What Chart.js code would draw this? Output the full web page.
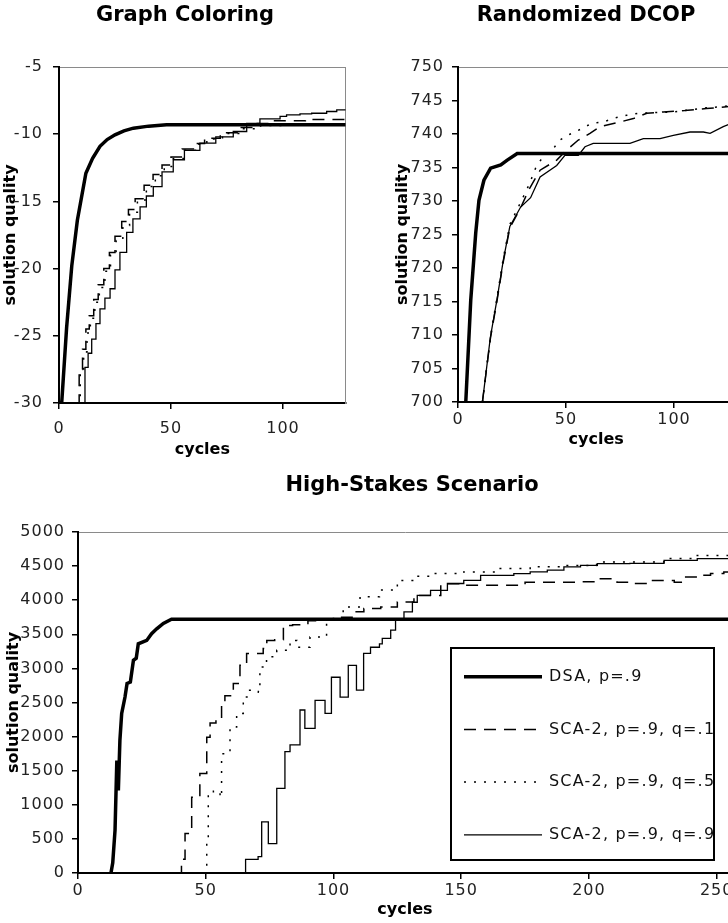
<!DOCTYPE html>
<html>
<head>
<meta charset="utf-8">
<script src="https://cdn.jsdelivr.net/npm/chart.js@4.4.1/dist/chart.umd.min.js"></script>
<style>
  html, body { margin: 0; padding: 0; background: #fff; overflow: hidden; width: 728px; height: 923px; }
  .box { position: absolute; }
  #gcBox { left: 0; top: 0; width: 370px; height: 463px; }
  #dcopBox { left: 392px; top: 0; width: 388px; height: 453px; }
  #hsBox { left: 0; top: 460px; width: 824px; height: 463px; }
</style>
</head>
<body>
<div class="box" id="gcBox"><canvas id="gcChart"></canvas></div>
<div class="box" id="dcopBox"><canvas id="dcopChart"></canvas></div>
<div class="box" id="hsBox"><canvas id="hsChart"></canvas></div>
<script>
// ===== Data =====
const seriesLabels = ['DSA, p=.9', 'SCA-2, p=.9, q=.1', 'SCA-2, p=.9, q=.5', 'SCA-2, p=.9, q=.9'];

// Graph Coloring
const gcXTicks = [0, 50, 100];
const gcYTicks = [-30, -25, -20, -15, -10, -5];
const gcDsaX = [1.2, 3.4, 5.7, 8.2, 12, 15, 18.3, 21.5, 25, 29, 33.2, 40, 48, 128];
const gcDsaY = [-30, -24.4, -19.8, -16.4, -12.9, -11.8, -10.9, -10.4, -10.05, -9.75, -9.55, -9.4, -9.3, -9.3];
const gcQ1X = [7.6, 9, 10.5, 12, 13.5, 15.5, 17.5, 20, 22.5, 25, 28, 31, 34, 38, 42, 46, 50, 55, 60, 65, 72, 80, 88, 95, 110, 128];
const gcQ1Y = [-30, -27.5, -26, -24.5, -23.5, -22.3, -21.2, -20, -18.8, -17.6, -16.5, -15.6, -14.8, -13.8, -13, -12.3, -11.7, -11.1, -10.7, -10.3, -9.9, -9.5, -9.2, -9, -8.9, -8.88];
const gcQ5X = [8, 9.5, 11, 12.5, 14, 16, 18, 20.5, 23, 25.5, 28.5, 31.5, 35, 39, 43, 47, 51, 56, 61, 66, 73, 81, 90, 100, 128];
const gcQ5Y = [-30, -27.8, -26.2, -24.8, -23.7, -22.5, -21.4, -20.2, -19, -17.9, -16.8, -15.8, -14.9, -13.9, -13.1, -12.4, -11.8, -11.2, -10.75, -10.35, -9.95, -9.6, -9.35, -9.25, -9.2];
const gcQ9X = [10.9, 11.6, 13, 14.6, 16.5, 18.3, 20.5, 22.8, 25, 27.2, 30.2, 33, 36.2, 39, 42.1, 46, 51, 56, 62.9, 70, 77.8, 83.8, 89.7, 98.7, 101.6, 107.6, 112.8, 119.5, 124, 128];
const gcQ9Y = [-30, -27.35, -26.3, -25.25, -24.1, -23, -22.2, -21.5, -20.1, -18.8, -17.3, -16.3, -15.4, -14.6, -13.9, -12.8, -11.9, -11.2, -10.66, -10.2, -9.8, -9.2, -8.86, -8.68, -8.56, -8.49, -8.44, -8.31, -8.19, -8.19];

// Randomized DCOP
const dcopXTicks = [0, 50, 100];
const dcopYTicks = [700, 705, 710, 715, 720, 725, 730, 735, 740, 745, 750];
const dcopDsaX = [3.6, 5.9, 8.2, 9.7, 12, 15.1, 19.8, 22.8, 27.4, 128];
const dcopDsaY = [700, 715.2, 725.2, 730.1, 733.1, 734.9, 735.4, 736.1, 737.1, 737.1];
const dcopQ1X = [11.3, 15, 18, 21, 24, 29, 33, 38, 45.7, 50.3, 55.7, 61.1, 65.7, 75, 81.2, 87.4, 95, 105, 115, 122, 128];
const dcopQ1Y = [700, 709.5, 715, 721, 726, 729, 731.8, 734.6, 736.1, 737.6, 739.1, 740.1, 741.1, 741.8, 742.3, 743.1, 743.3, 743.5, 743.8, 744, 744.2];
const dcopQ5X = [11.3, 15, 18, 21, 24, 29, 33, 36.4, 40, 44.1, 47.2, 52, 57.3, 61.9, 67.3, 72.7, 78.1, 83.5, 92, 99.7, 107.4, 115.1, 122.8, 128];
const dcopQ5Y = [700, 709.7, 715.5, 721.5, 726.5, 729.8, 732.5, 735.3, 736.8, 737.8, 739.1, 740, 740.8, 741.6, 741.8, 742.4, 742.8, 743.1, 743.2, 743.3, 743.6, 743.9, 744.1, 744.3];
const dcopQ9X = [11.3, 15, 18, 21, 24, 29, 33.6, 38, 45.7, 49.5, 55.7, 58.8, 62.6, 79.6, 85.8, 93.5, 99.7, 107.4, 113.6, 116.7, 122.8, 125.1, 128];
const dcopQ9Y = [700, 709.7, 715.2, 721.2, 726.2, 729.1, 730.5, 733.6, 735.3, 736.8, 736.8, 738.1, 738.6, 738.6, 739.3, 739.3, 739.8, 740.3, 740.3, 740.1, 741.1, 741.4, 741.5];

// High-Stakes Scenario
const hsXTicks = [0, 50, 100, 150, 200, 250];
const hsYTicks = [0, 500, 1000, 1500, 2000, 2500, 3000, 3500, 4000, 4500, 5000];
const hsDsaX = [12.9, 13.6, 14.5, 15.2, 15.8, 16.4, 17.1, 18.4, 19.2, 20.5, 21.7, 22.8, 23.6, 26.9, 28.8, 30.8, 33.4, 36.6, 256];
const hsDsaY = [0, 150, 630, 1650, 1210, 1945, 2340, 2580, 2780, 2800, 3120, 3150, 3360, 3410, 3510, 3580, 3660, 3720, 3720];
const hsQ1X = [38.6, 40.5, 41.9, 44.5, 47.7, 50.4, 51.7, 54, 56.2, 57.5, 60.8, 63.4, 66, 72.5, 73.9, 77, 80.4, 84, 90, 95, 100, 107.8, 111.9, 118.5, 125, 131.5, 142, 151, 166.7, 175, 183.7, 195, 203, 211, 216, 224, 233.4, 237.3, 242.4, 247.6, 252.8, 256];
const hsQ1Y = [0, 200, 580, 1110, 1460, 1990, 2200, 2250, 2480, 2600, 2780, 3045, 3220, 3290, 3410, 3420, 3630, 3640, 3700, 3720, 3750, 3830, 3880, 3900, 3975, 4070, 4240, 4220, 4220, 4265, 4265, 4270, 4315, 4265, 4245, 4290, 4265, 4340, 4365, 4390, 4415, 4420];
const hsQ5X = [49.3, 50.4, 51, 53, 55.6, 56.2, 59.5, 62.1, 64.7, 66.7, 70.6, 71.2, 73.8, 77.8, 83, 85.7, 90.8, 97.3, 103.8, 110.4, 118, 125, 131, 138, 151, 164, 177, 190, 203, 216, 229.4, 242.4, 256];
const hsQ5Y = [0, 480, 1160, 1200, 1110, 1750, 2140, 2340, 2580, 2680, 2650, 3020, 3170, 3265, 3410, 3310, 3460, 3705, 3900, 4050, 4150, 4290, 4350, 4390, 4415, 4465, 4490, 4510, 4560, 4560, 4610, 4655, 4640];
const hsQ9X = [65.4, 65.6, 70.2, 70.5, 71.6, 71.9, 73.9, 74.5, 77.3, 77.8, 80.5, 81, 82.5, 83, 85.7, 86.9, 88.8, 91.4, 92.8, 95.5, 96.7, 98, 99.2, 101, 102.6, 104.5, 105.8, 107.8, 109, 110.5, 111.8, 114, 114.5, 117.5, 118, 118.8, 119.1, 122, 122.4, 124, 124.3, 127, 127.6, 130.5, 130.9, 132.5, 132.8, 137.5, 138, 144, 144.6, 150.5, 151, 157, 157.6, 170, 170.6, 176.5, 177, 183, 183.7, 189.7, 190.2, 196, 196.7, 203, 203.3, 216, 229.4, 242.4, 256];
const hsQ9Y = [0, 200, 200, 240, 240, 750, 750, 430, 430, 1240, 1240, 1780, 1780, 1880, 1880, 2390, 2120, 2120, 2530, 2530, 2340, 2340, 2870, 2870, 2580, 2580, 3045, 3045, 2680, 2680, 3220, 3220, 3310, 3310, 3360, 3360, 3440, 3440, 3560, 3560, 3705, 3705, 3830, 3830, 3970, 3970, 4070, 4070, 4145, 4145, 4245, 4245, 4290, 4290, 4365, 4365, 4390, 4390, 4415, 4415, 4440, 4440, 4490, 4490, 4510, 4510, 4535, 4540, 4585, 4610, 4635];

// ===== Styling =====
const tickFont = { family: 'DejaVu Sans', size: 16 };
const axisFont = { family: 'DejaVu Sans', size: 16, weight: 'bold' };
const titleFont = { family: 'DejaVu Sans', size: 21, weight: 'bold' };
const lineStyles = [
  { borderWidth: 3.5, borderDash: [] },
  { borderWidth: 1.5, borderDash: [12, 8] },
  { borderWidth: 1.5, borderDash: [2, 8] },
  { borderWidth: 1.3, borderDash: [] }
];

const zip = (xs, ys) => xs.map((x, i) => ({ x, y: ys[i] }));

function makeSeries(pairs, steppedSca) {
  return pairs.map((p, i) => ({
    label: seriesLabels[i],
    data: zip(p[0], p[1]),
    borderColor: '#000',
    borderWidth: lineStyles[i].borderWidth,
    borderDash: lineStyles[i].borderDash,
    pointRadius: 0,
    tension: 0,
    fill: false,
    stepped: steppedSca && i > 0,
    xAxisID: 'x',
    yAxisID: 'y'
  }));
}

// dotted outline on the top and right side of the plot
const dotted = { color: '#8a8a8a', width: 1, dash: [2, 2] };

function scales(o) {
  return {
    x: {
      type: 'linear', min: 0, max: o.xMax,
      afterBuildTicks: s => { s.ticks = o.xTicks.map(v => ({ value: v })); },
      afterFit: s => { s.height = o.xHeight; },
      grid: { display: true, drawOnChartArea: false, tickLength: 6, color: '#000', lineWidth: 1.5 },
      border: { color: '#000', width: 2 },
      ticks: { z: 1, font: tickFont, color: '#222', padding: o.xPad, maxRotation: 0, autoSkip: false, callback: v => String(v) },
      title: { display: true, text: 'cycles', font: axisFont, color: '#000', padding: { top: 0, bottom: 3.4 } }
    },
    xTop: {
      type: 'linear', position: 'top',
      afterFit: s => { s.height = o.topGap; },
      grid: { display: false }, ticks: { display: false }, border: dotted
    },
    y: {
      type: 'linear', min: o.yTicks[0], max: o.yTicks[o.yTicks.length - 1],
      afterBuildTicks: s => { s.ticks = o.yTicks.map(v => ({ value: v })); },
      afterFit: s => { s.width = o.yWidth; },
      grid: { display: true, drawOnChartArea: false, tickLength: 6, color: '#000', lineWidth: 1.5 },
      border: { color: '#000', width: 2 },
      ticks: { z: 1, font: tickFont, color: '#222', padding: o.yPad, autoSkip: false, callback: v => String(v) },
      title: { display: true, text: 'solution quality', font: axisFont, color: '#000', padding: { top: o.yTitlePad, bottom: 0 } }
    },
    yRight: {
      type: 'linear', position: 'right',
      afterFit: s => { s.width = o.rightGap; },
      grid: { display: false }, ticks: { display: false }, border: dotted
    }
  };
}

// ===== Legend drawn inside the High-Stakes plot, wider letter spacing for regular text =====
const legendBox = {
  id: 'legendBox',
  afterDatasetsDraw(chart, args, opts) {
    const { ctx, chartArea: a } = chart;
    // tick labels (z: 1) are drawn after this hook and keep this spacing
    ctx.letterSpacing = '1px';
    if (!opts.show) return;
    const left = a.left + 373, top = a.top + 116, w = 263, h = 212;
    ctx.save();
    ctx.fillStyle = '#fff';
    ctx.fillRect(left, top, w, h);
    ctx.strokeStyle = '#000';
    ctx.lineWidth = 2;
    ctx.strokeRect(left, top, w, h);
    ctx.beginPath();
    ctx.rect(left, top, w - 1, h);
    ctx.clip();
    ctx.letterSpacing = '1.2px';
    chart.data.datasets.forEach((ds, i) => {
      const y = top + 28.7 + i * 52.7;
      ctx.setLineDash(ds.borderDash);
      ctx.lineWidth = ds.borderWidth;
      ctx.strokeStyle = ds.borderColor;
      ctx.beginPath();
      ctx.moveTo(left + 13, y);
      ctx.lineTo(left + 91, y);
      ctx.stroke();
      ctx.setLineDash([]);
      ctx.fillStyle = '#111';
      ctx.font = '16px "DejaVu Sans"';
      ctx.textBaseline = 'middle';
      ctx.fillText(ds.label, left + 98, y);
    });
    ctx.restore();
  },
  afterDraw(chart) {
    chart.ctx.letterSpacing = '0px';
  }
};

function makeChart(id, title, titleTop, datasets, o, showLegend) {
  return new Chart(document.getElementById(id), {
    type: 'line',
    data: { datasets },
    options: {
      responsive: true,
      maintainAspectRatio: false,
      animation: false,
      layout: { padding: 0 },
      scales: scales(o),
      plugins: {
        legend: { display: false },
        tooltip: { enabled: false },
        title: { display: true, text: title, font: titleFont, color: '#000', padding: { top: titleTop, bottom: 0 } },
        legendBox: { show: showLegend }
      }
    },
    plugins: [legendBox]
  });
}

makeChart('gcChart', 'Graph Coloring', 3,
  makeSeries([[gcDsaX, gcDsaY], [gcQ1X, gcQ1Y], [gcQ5X, gcQ5Y], [gcQ9X, gcQ9Y]], true),
  { xMax: 128, xTicks: gcXTicks, yTicks: gcYTicks, xHeight: 60, xPad: 10, topGap: 38.8, yWidth: 59, rightGap: 24.3, yPad: 10, yTitlePad: 1.4 },
  false);

makeChart('dcopChart', 'Randomized DCOP', 3,
  makeSeries([[dcopDsaX, dcopDsaY], [dcopQ1X, dcopQ1Y], [dcopQ5X, dcopQ5Y], [dcopQ9X, dcopQ9Y]], false),
  { xMax: 128, xTicks: dcopXTicks, yTicks: dcopYTicks, xHeight: 51, xPad: 2, topGap: 38.8, yWidth: 66, rightGap: 45.5, yPad: 8, yTitlePad: 1.4 },
  false);

makeChart('hsChart', 'High-Stakes Scenario', 13.4,
  makeSeries([[hsDsaX, hsDsaY], [hsQ1X, hsQ1Y], [hsQ5X, hsQ5Y], [hsQ9X, hsQ9Y]], true),
  { xMax: 256, xTicks: hsXTicks, yTicks: hsYTicks, xHeight: 50, xPad: 2, topGap: 33.4, yWidth: 78, rightGap: 92, yPad: 7, yTitlePad: 4.4 },
  true);
</script>
</body>
</html>
